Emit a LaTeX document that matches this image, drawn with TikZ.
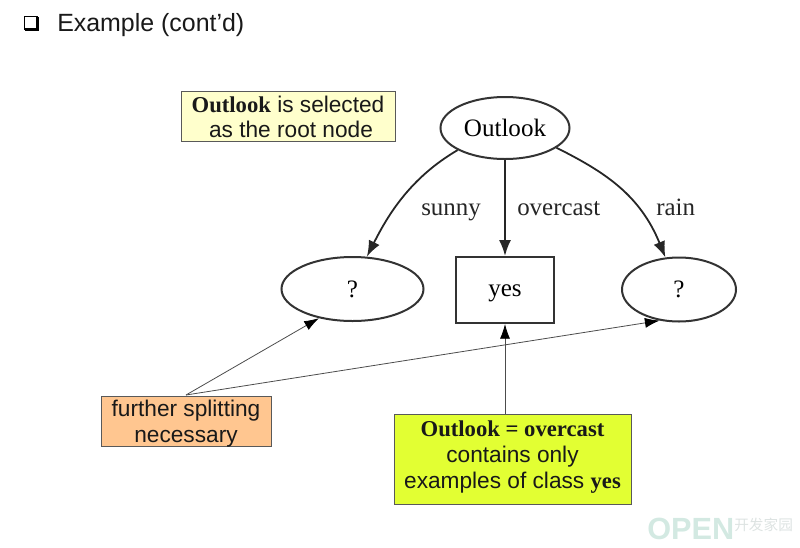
\documentclass[tikz,border=0pt]{standalone}
\usepackage{fontspec}
\setmainfont{Liberation Serif}
\setsansfont{Liberation Sans}
\newfontfamily\cjkwm{Noto Sans CJK SC}
\usetikzlibrary{arrows.meta,shapes.geometric}
\newcommand{\fs}[1]{\fontsize{#1}{#1}\selectfont}
\definecolor{noteyellow}{HTML}{FFFFCC}
\definecolor{noteorange}{HTML}{FFC690}
\definecolor{notegreen}{HTML}{E2FF33}
\definecolor{wmteal}{HTML}{D3E9E2}
\definecolor{wmgray}{HTML}{DDE3E2}
\tikzset{
  treeell/.style={draw=black!80,line width=1.5pt,ellipse,inner sep=0pt,font=\rmfamily\fs{18.8}},
  treebox/.style={draw=black!80,line width=1.5pt,rectangle,inner sep=0pt,font=\rmfamily\fs{18.8}},
  notebox/.style={draw=black!65,line width=0.75pt,rectangle,inner sep=0pt,align=center,font=\sffamily\fs{17},text=black!90},
  edgelab/.style={inner sep=0pt,font=\rmfamily\fs{18.7},text=black!85},
  treearrow/.style={draw=black!85,line width=1.35pt,-{Latex[length=12pt,width=9pt]}},
  notearrow/.style={draw=black!70,line width=0.6pt,-{Latex[length=11pt,width=7.5pt,color=black]}},
}
\begin{document}
\begin{tikzpicture}[x=0.75pt,y=-0.75pt]
\useasboundingbox (0,0) rectangle (800,547);
% title
\node[inner sep=0pt,anchor=base west,font=\sffamily\fs{18.7},text=black!90] (title) at (57,31) {Example (cont’d)};
\draw[draw=black,line width=1pt,fill=white] (24.5,16.5) rectangle (37,29);
\draw[draw=black,line width=1.5pt] (24.5,30) -- (38,30) -- (38,17);
% tree nodes
\node[treeell,minimum width=96.75pt,minimum height=46.5pt] (root) at (505,128) {Outlook};
\node[treeell,minimum width=106.5pt,minimum height=48pt] (left) at (352.5,289) {?};
\node[treebox,minimum width=73.5pt,minimum height=49.5pt,text height=12pt,text depth=3pt] (yes) at (505,290) {yes};
\node[treeell,minimum width=85.5pt,minimum height=48pt] (right) at (679,289.5) {?};
% notes
\node[notebox,fill=noteyellow,minimum width=160.5pt,minimum height=37.5pt] (n1) at (288,116)
  {\raisebox{-7.25pt}[0pt][0pt]{\begin{tabular}{@{}c@{}}{\rmfamily\bfseries Outlook} is selected\\[1.3pt]\hspace{4.5pt}as the root node\end{tabular}}};
\node[notebox,fill=noteorange,minimum width=127.5pt,minimum height=37.5pt] (n2) at (186,421)
  {\raisebox{-7.25pt}[0pt][0pt]{\begin{tabular}{@{}c@{}}further splitting\\[2.5pt]necessary\end{tabular}}};
\node[notebox,fill=notegreen,minimum width=177.75pt,minimum height=67.5pt] (n3) at (512.5,459)
  {\raisebox{-3.25pt}[0pt][0pt]{\begin{tabular}{@{}c@{}}{\rmfamily\bfseries Outlook = overcast}\\[2pt]contains only\\[2pt]examples of class {\rmfamily\bfseries yes}\end{tabular}}};
% tree edges
\draw[treearrow] (root.205) .. controls (410,178) and (388,215) .. (left.66);
\draw[treearrow] (root.south) -- (yes.north);
\draw[treearrow] (root.-21) .. controls (605,172) and (640,195) .. (right.113);
\node[edgelab,anchor=base west] (l1) at (421,215) {sunny};
\node[edgelab,anchor=base west] (l2) at (517,215) {overcast};
\node[edgelab,anchor=base west] (l3) at (656,215) {rain};
% note arrows
\coordinate (n2top) at (186,395);
\draw[notearrow] (n2top) -- (left.-139);
\draw[notearrow] (n2top) -- (right.-122);
\draw[notearrow] (n3.north -| yes.south) -- (yes.south);
% watermark
\node[inner sep=0pt,anchor=base west,font=\sffamily\bfseries\fs{23},text=wmteal] (wm1) at (647,539) {OPEN};
\node[inner sep=0pt,anchor=base west,font=\cjkwm\fs{11},text=wmgray] (wm2) at (734,530) {开发家园};
\end{tikzpicture}
\end{document}
